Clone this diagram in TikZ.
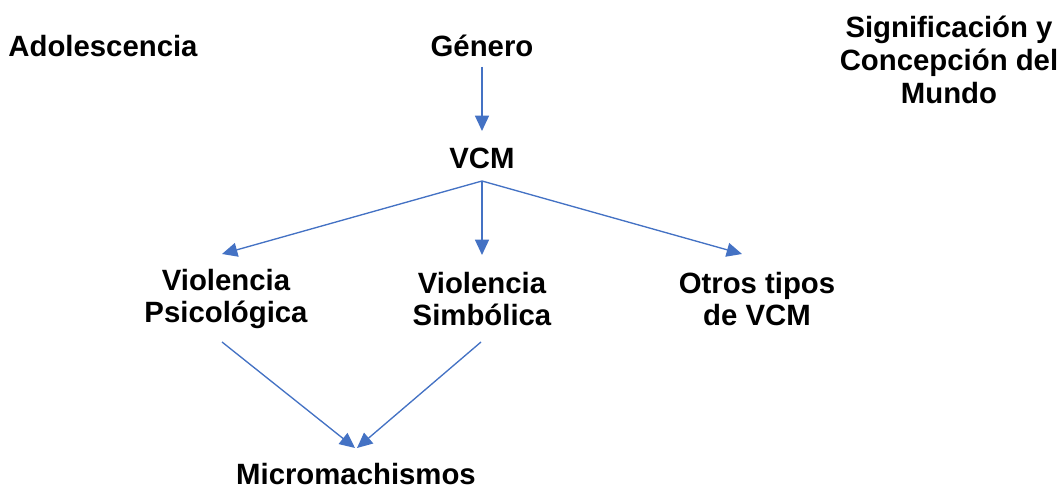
\documentclass[tikz,border=0pt]{standalone}
\usepackage{fontspec}
\setmainfont{Liberation Sans}
\usetikzlibrary{arrows.meta,calc}
\definecolor{arrblue}{HTML}{4472C4}
\begin{document}
\begin{tikzpicture}[x=0.75pt,y=-0.75pt,
  lbl/.style={font=\fontsize{22}{24.5}\selectfont\bfseries, align=center, inner sep=0pt},
  arr/.style={draw=arrblue, line width=1pt, -{Triangle[length=11.5pt,width=10.5pt]}, fill=arrblue}]
\useasboundingbox (0,0) rectangle (1060,488);
\node[lbl] (ado) at (103,46) {Adolescencia};
\node[lbl] (gen) at (482,46) {Género};
\node[lbl] (sig) at (949,60) {Significación y\\Concepción del\\Mundo};
\node[lbl] (vcm) at (482,158) {VCM};
\node[lbl] (psi) at (226,299) {Violencia\\Psicológica};
\node[lbl] (sim) at (482,299) {Violencia\\Simbólica};
\node[lbl] (otr) at (757,299) {Otros tipos\\de VCM};
\node[lbl, align=none] (mic) at (356,474) {Micromachismos};
\draw[arr] ($(gen.center)+(0,21)$) -- ($(vcm.center)+(0,-27)$);
\draw[arr] ($(vcm.center)+(0,23)$) -- ($(psi.center)+(-4,-45)$);
\draw[arr] ($(vcm.center)+(0,23)$) -- ($(sim.center)+(0,-44)$);
\draw[arr] ($(vcm.center)+(0,23)$) -- ($(otr.center)+(-15,-45)$);
\draw[arr] ($(psi.center)+(-4,43)$) -- ($(mic.center)+(-1,-26)$);
\draw[arr] ($(sim.center)+(-1,43)$) -- ($(mic.center)+(1,-26)$);
\end{tikzpicture}
\end{document}
